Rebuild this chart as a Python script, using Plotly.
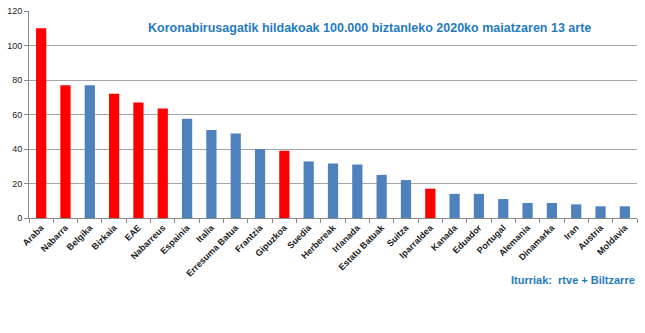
import plotly.graph_objects as go

# Deaths from coronavirus per 100,000 inhabitants up to 13 May 2020
categories = ["Araba", "Nabarra", "Belgika", "Bizkaia", "EAE", "Nabarreus",
              "Espainia", "Italia", "Erresuma Batua", "Frantzia", "Gipuzkoa",
              "Suedia", "Herbereak", "Irlanada", "Estatu Batuak", "Suitza",
              "Iparraldea", "Kanada", "Eduador", "Portugal", "Alemania",
              "Dinamarka", "Iran", "Austria", "Moldavia"]
values = [110, 77, 77, 72, 67, 63.5, 57.6, 51, 49, 40, 39,
          32.8, 31.6, 31, 25, 22, 17, 14, 14, 11, 8.7, 8.7, 7.9, 6.8, 6.8]
basque = {"Araba", "Nabarra", "Bizkaia", "EAE", "Nabarreus", "Gipuzkoa", "Iparraldea"}

RED = "#FF0000"
BLUE = "#4F81BD"
TEXT_BLUE = "#1F7BC0"
colors = [RED if c in basque else BLUE for c in categories]

W, H = 645, 333
ML, MR, MT, MB = 29, 8, 6, 115
plot_w = W - ML - MR
plot_h = H - MT - MB

fig = go.Figure(go.Bar(
    x=categories, y=values, marker=dict(color=colors, line=dict(width=0)),
))

fig.update_layout(
    width=W, height=H,
    margin=dict(l=ML, r=MR, t=MT, b=MB),
    paper_bgcolor="white", plot_bgcolor="white",
    bargap=0.58,
    showlegend=False,
    font=dict(family="Liberation Sans, Arial, sans-serif", size=9, color="#222"),
    xaxis=dict(
        type="category", tickangle=-45, showgrid=False,
        showline=True, linecolor="#888", linewidth=1,
        ticks="outside", tickson="boundaries", ticklen=4, tickcolor="#888",
        tickfont=dict(size=9, color="#1a1a1a", weight="bold"),
    ),
    yaxis=dict(
        range=[0, 120], dtick=20, showgrid=True, gridcolor="#A6A6A6",
        showline=True, linecolor="#888", linewidth=1,
        ticks="outside", ticklen=4, tickcolor="#888",
        tickfont=dict(size=9, color="#222"), zeroline=False,
    ),
    annotations=[
        dict(text="<b>Koronabirusagatik hildakoak 100.000 biztanleko 2020ko maiatzaren 13 arte</b>",
             x=(369 - ML) / plot_w, y=(plot_h + MT - 23) / plot_h,
             xref="paper", yref="paper", showarrow=False,
             xanchor="center", yanchor="middle",
             font=dict(size=12.5, color=TEXT_BLUE, family="Liberation Sans, sans-serif")),
        dict(text="<b>Iturriak:  rtve + Biltzarre</b>",
             x=1.0, y=-(281 - (plot_h + MT)) / plot_h,
             xref="paper", yref="paper", showarrow=False,
             xanchor="right", yanchor="middle",
             font=dict(size=11, color=TEXT_BLUE, family="Liberation Sans, sans-serif")),
    ],
)

fig.write_html("out.html")
